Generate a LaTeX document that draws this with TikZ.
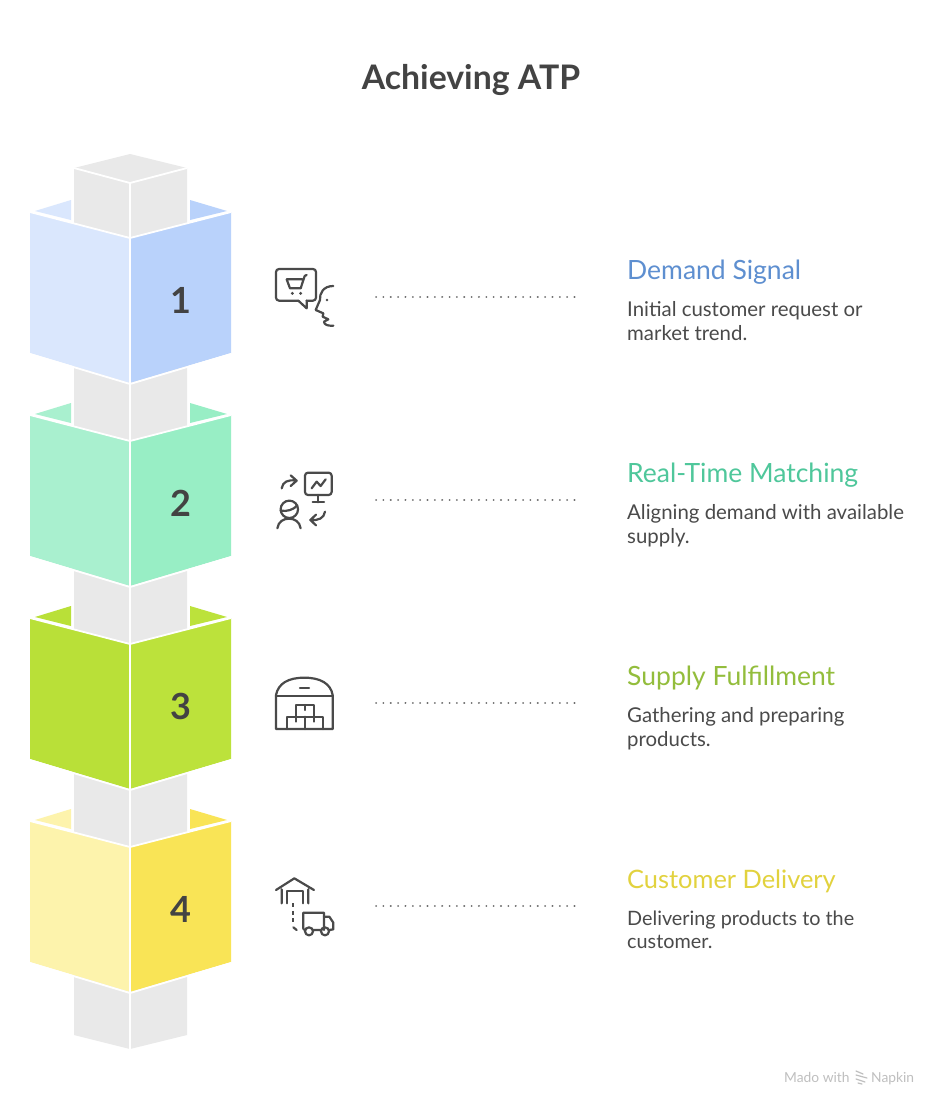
\documentclass[tikz,border=0pt]{standalone}
\usepackage{fontspec}
\setmainfont{Lato}
\definecolor{ink}{HTML}{4A4A4A}
\definecolor{pil}{HTML}{E9E9E9}
\definecolor{onel}{HTML}{DAE7FD}\definecolor{oner}{HTML}{B9D2FB}
\definecolor{twol}{HTML}{A9F0CF}\definecolor{twor}{HTML}{98EEC5}
\definecolor{thrl}{HTML}{B9E038}\definecolor{thrr}{HTML}{BCE23B}
\definecolor{foul}{HTML}{FDF3AC}\definecolor{four}{HTML}{F9E456}
\definecolor{onet}{HTML}{5E8FD0}\definecolor{twot}{HTML}{4FC79B}
\definecolor{thrt}{HTML}{93BD3C}\definecolor{fout}{HTML}{E2D23E}
\tikzset{
 whiteline/.style={draw=white,line width=1.8pt,line join=round},
 ico/.style={x=0.3333pt,y=-0.3333pt},
 icol/.style={draw=ink,line width=2.2pt,line cap=round,line join=round},
 dots/.style={draw=ink!80,line width=2pt,line cap=round,dash pattern=on 0.1pt off 7.25pt},
 titletext/.style={font=\fontsize{26.5}{30}\selectfont,anchor=west,inner sep=0pt},
 bodytext/.style={font=\fontsize{20.4}{23.5}\selectfont,anchor=north west,align=left,inner sep=0pt,text=ink},
 numtext/.style={font=\bfseries\fontsize{36}{36}\selectfont,text=ink!90!black,inner sep=0pt},
 foottext/.style={font=\fontsize{13.8}{15}\selectfont,text=black!25,anchor=base west,inner sep=0pt},
}
\begin{document}
\begin{tikzpicture}[x=1pt,y=-1pt]
\useasboundingbox (0,0) rectangle (944,1111);
\fill[white] (0,0) rectangle (944,1111);
% back flaps
\foreach \c/\l/\r in {238/onel/oner,441/twol/twor,644/thrl/thrr,847/foul/four}{
 \fill[\l] (35,\c-27) -- (71,\c-38) -- (71,\c-18) -- cycle;
 \fill[\r] (190,\c-38) -- (227,\c-27) -- (190,\c-18) -- cycle;
}
% pillar
\fill[pil] (74,168) -- (130,154) -- (187,168) -- (187,1035) -- (130,1049) -- (74,1035) -- cycle;
\draw[whiteline] (74,168) -- (130,183) -- (187,168);
\draw[whiteline] (130,183) -- (130,1052);
% fronts
\foreach \c/\l/\r in {238/onel/oner,441/twol/twor,644/thrl/thrr,847/foul/four}{
 \fill[\l] (30,\c-26) -- (130,\c) -- (130,\c+145) -- (30,\c+115) -- cycle;
 \fill[\r] (231,\c-26) -- (130,\c) -- (130,\c+145) -- (231,\c+115) -- cycle;
 \draw[whiteline] (30,\c-26) -- (130,\c) -- (231,\c-26);
 \draw[whiteline] (130,\c) -- (130,\c+145);
 \draw[whiteline] (30,\c+116) -- (130,\c+146) -- (231,\c+116);
}
\node[font=\bfseries\fontsize{33.8}{36}\selectfont,text=ink!90!black,inner sep=0pt] (title) at (471,80) {Achieving ATP};
\node[numtext] (n1) at (181,300) {1};
\node[numtext] (n2) at (181,503) {2};
\node[numtext] (n3) at (181,706) {3};
\node[numtext] (n4) at (181,909) {4};
% connectors
\foreach \i/\y in {1/297,2/500,3/703,4/906}{
 \coordinate (ds\i) at (376,\y);
 \coordinate (de\i) at (578,\y);
 \draw[dots] (ds\i) -- (de\i);
}
% texts
\node[titletext,text=onet] (t1) at (627,272) {Demand Signal};
\node[bodytext] (b1) at (627,301.5) {Initial customer request or\\market trend.};
\node[titletext,text=twot] (t2) at (627,475) {Real-Time Matching};
\node[bodytext] (b2) at (627,504.5) {Aligning demand with available\\supply.};
\node[titletext,text=thrt] (t3) at (627,678) {Supply Fulfillment};
\node[bodytext] (b3) at (627,707.5) {Gathering and preparing\\products.};
\node[titletext,text=fout,font=\fontsize{25.4}{30}\selectfont] (t4) at (627,881) {Customer Delivery};
\node[bodytext,font=\fontsize{19.8}{23.5}\selectfont] (b4) at (627,910.5) {Delivering products to the\\customer.};
% icon 1
\begin{scope}[shift={(260,250)},ico]
 \draw[icol,rounded corners=3pt] (115,152) -- (48,152) -- (48,57) -- (168,57) -- (168,152) -- (140,152);
 \draw[icol] (115,152) -- (140,175) -- (140,152);
 \draw[icol] (80,88) -- (127,88) (140,75) -- (134,78) -- (122,115) -- (90,115) -- (80,88);
 \fill[ink] (97,130) circle[radius=1.6pt] (122,130) circle[radius=1.6pt] (201,150) circle[radius=1.4pt];
 \draw[icol] (220,108) .. controls (190,108) and (178,130) .. (180,150) -- (167,180) -- (190,190) -- (188,200) -- (205,208) -- (192,215) .. controls (192,225) and (205,228) .. (220,227);
\end{scope}
% icon 2
\begin{scope}[shift={(260,460)},ico]
 \draw[icol,rounded corners=3pt] (135,38) rectangle (215,105);
 \draw[icol] (175,105) -- (175,127) (158,127) -- (192,127);
 \draw[icol] (155,85) -- (170,65) -- (182,78) -- (197,58);
 \draw[icol] (65,85) .. controls (68,65) and (85,58) .. (108,62) (92,46) -- (110,62) -- (92,78);
 \draw[icol] (195,155) .. controls (192,175) and (175,182) .. (152,180) (168,164) -- (151,180) -- (168,196);
 \draw[icol] (88,148) circle[radius=8.7pt];
 \draw[icol] (62,152) .. controls (80,155) and (100,150) .. (112,136);
 \draw[icol] (52,205) .. controls (55,185) and (70,176) .. (87,176) .. controls (104,176) and (119,185) .. (122,205);
\end{scope}
% icon 3
\begin{scope}[shift={(260,665)},ico]
 \draw[icol] (48,192) -- (48,90) .. controls (55,55) and (85,38) .. (133,38) .. controls (180,38) and (212,55) .. (218,90) -- (218,192) -- cycle;
 \draw[icol] (48,93) -- (218,93) (120,68) -- (147,68);
 \draw[icol] (108,155) -- (108,120) -- (162,120) -- (162,155);
 \draw[icol] (82,192) -- (82,155) -- (188,155) -- (188,192) (135,155) -- (135,192);
 \draw[icol] (134,120) -- (134,135) (108,155) -- (108,170) (161,155) -- (161,170);
\end{scope}
% icon 4
\begin{scope}[shift={(260,870)},ico]
 \draw[icol] (48,60) -- (103,25) -- (162,60) (65,58) -- (65,100) (145,58) -- (145,100);
 \draw[icol] (80,100) -- (80,62) -- (130,62) -- (130,100);
 \draw[icol,line cap=butt,dash pattern=on 4pt off 3.5pt] (100,100) -- (100,165);
 \draw[icol] (100,172) -- (110,180);
 \draw[icol] (134,180) -- (130,176) -- (130,128) -- (192,128) -- (192,180) (160,180) -- (182,180);
 \draw[icol] (192,140) -- (208,140) -- (220,158) -- (220,178) -- (208,180);
 \draw[icol] (147,184) circle[radius=4pt] (195,184) circle[radius=4pt];
\end{scope}
% footer
\node[foottext] (m1) at (784,1082) {Mado with};
\node[foottext] (m2) at (871,1082) {Napkin};
\foreach \a/\b/\c/\d in {856/1071/863/1074,856/1075/867/1078,856/1079/865/1082,858/1083/862/1084}
 \draw[black!25,line width=1.2pt,line cap=round] (\a,\b) -- (\c,\d);
\end{tikzpicture}
\end{document}
